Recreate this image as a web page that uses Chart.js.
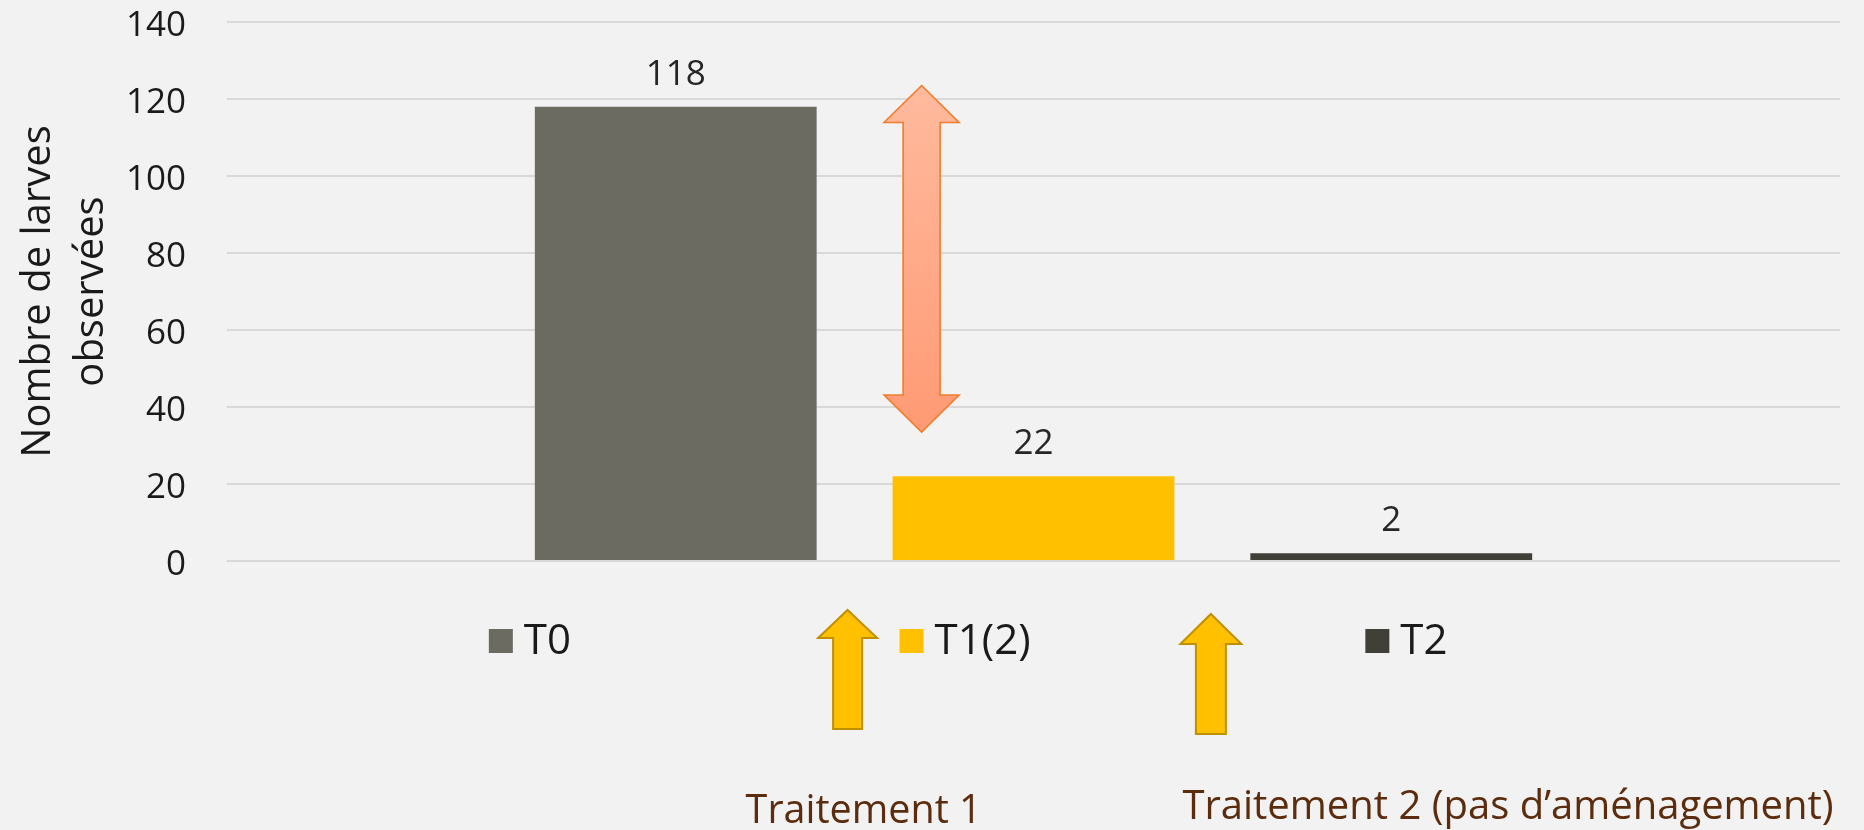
<!DOCTYPE html>
<html><head><meta charset="utf-8">
<script src="https://cdn.jsdelivr.net/npm/chart.js@4.4.1/dist/chart.umd.min.js"></script>
<style>html,body{margin:0;padding:0;background:#f2f2f2;overflow:hidden}#wrap{width:1864px;height:830px}</style>
</head><body><div id="wrap"><canvas id="c" width="1864" height="830"></canvas></div>
<script>
// ---- data ----
const categories = [''];
const seriesLabels = ['T0', 'T1(2)', 'T2'];
const t0Values = [118];
const t1Values = [22];
const t2Values = [2];
const yTicks = [0, 20, 40, 60, 80, 100, 120, 140];
const yTitle = ['Nombre de larves', 'observées'];
const noteLabels = ['Traitement 1', 'Traitement 2 (pas d\u2019aménagement)'];

// ---- styles ----
const FONT = "'Open Sans', sans-serif";
const barColors = ['#6c6b62', '#ffc000', '#403f38'];
const BG = '#f2f2f2';

const bgPlugin = {
  id: 'bg',
  beforeDraw(chart) {
    const c = chart.ctx; c.save(); c.fillStyle = BG; c.fillRect(0, 0, chart.width, chart.height); c.restore();
  }
};

const valueLabels = {
  id: 'valueLabels',
  afterDatasetsDraw(chart) {
    const c = chart.ctx; c.save();
    c.font = '35px ' + FONT; c.fillStyle = '#262626'; c.textAlign = 'center'; c.textBaseline = 'middle';
    chart.data.datasets.forEach((ds, i) => {
      chart.getDatasetMeta(i).data.forEach((el, j) => {
        c.fillText(String(ds.data[j]), el.x, el.y - 32);
      });
    });
    c.restore();
  }
};

function upArrow(c, cx, yTip, yBot, headHalf, shaftHalf, headLen) {
  c.beginPath();
  c.moveTo(cx, yTip);
  c.lineTo(cx + headHalf, yTip + headLen);
  c.lineTo(cx + shaftHalf, yTip + headLen);
  c.lineTo(cx + shaftHalf, yBot);
  c.lineTo(cx - shaftHalf, yBot);
  c.lineTo(cx - shaftHalf, yTip + headLen);
  c.lineTo(cx - headHalf, yTip + headLen);
  c.closePath();
}
function doubleArrow(c, cx, yTop, yBot, headHalf, shaftHalf, headLen) {
  c.beginPath();
  c.moveTo(cx, yTop);
  c.lineTo(cx + headHalf, yTop + headLen);
  c.lineTo(cx + shaftHalf, yTop + headLen);
  c.lineTo(cx + shaftHalf, yBot - headLen);
  c.lineTo(cx + headHalf, yBot - headLen);
  c.lineTo(cx, yBot);
  c.lineTo(cx - headHalf, yBot - headLen);
  c.lineTo(cx - shaftHalf, yBot - headLen);
  c.lineTo(cx - shaftHalf, yTop + headLen);
  c.lineTo(cx - headHalf, yTop + headLen);
  c.closePath();
}

const annotations = {
  id: 'annotations',
  afterDraw(chart) {
    const c = chart.ctx, ys = chart.scales.y, ca = chart.chartArea;
    const bars = chart.data.datasets.map((d, i) => chart.getDatasetMeta(i).data[0]);
    const L = b => b.x - b.width / 2, R = b => b.x + b.width / 2;
    c.save();
    // orange double arrow
    const ox = L(bars[1]) + 29;
    const oTop = ys.getPixelForValue(123.5), oBot = ys.getPixelForValue(33.5);
    const g = c.createLinearGradient(0, oTop, 0, oBot);
    g.addColorStop(0, '#ffba9e'); g.addColorStop(1, '#ff9a74');
    doubleArrow(c, ox, oTop, oBot, 37.5, 18.5, 37);
    c.fillStyle = g; c.fill();
    c.strokeStyle = '#f07d2c'; c.lineWidth = 1.6; c.lineJoin = 'miter'; c.stroke();
    // yellow arrows
    const gap1 = (R(bars[0]) + L(bars[1])) / 2, gap2 = (R(bars[1]) + L(bars[2])) / 2;
    c.fillStyle = '#ffc000'; c.strokeStyle = '#c09000'; c.lineWidth = 2;
    upArrow(c, gap1 - 7, ca.bottom + 49, ca.bottom + 168, 29.5, 14.5, 28); c.fill(); c.stroke();
    upArrow(c, gap2 - 1.5, ca.bottom + 53, ca.bottom + 173, 30.5, 15, 30); c.fill(); c.stroke();
    // notes
    c.fillStyle = '#5b2c0d'; c.textAlign = 'left'; c.textBaseline = 'alphabetic';
    c.font = '40px ' + FONT;
    c.fillText(noteLabels[0], gap1 - 109, ca.bottom + 262, 236);
    c.fillText(noteLabels[1], gap2 - 30, ca.bottom + 258, 675);
    // legend
    c.font = '42px ' + FONT; c.textBaseline = 'middle';
    const box = 24, tgap = 11, ly = ca.bottom + 80;
    const boxLefts = [L(bars[0]) - 46, L(bars[1]) + 7, L(bars[2]) + 115];
    chart.data.datasets.forEach((d, i) => {
      const x = boxLefts[i];
      c.fillStyle = d.backgroundColor;
      c.fillRect(x, ly - box / 2, box, box);
      c.fillStyle = '#1a1a1a';
      c.fillText(d.label, x + box + tgap, ly + 1);
    });
    c.restore();
  }
};

const datasets = [t0Values, t1Values, t2Values].map((vals, i) => ({
  label: seriesLabels[i],
  data: vals,
  backgroundColor: barColors[i],
  borderWidth: 0,
  categoryPercentage: 0.6654,
  barPercentage: 0.7877
}));

new Chart(document.getElementById('c'), {
  type: 'bar',
  data: { labels: categories, datasets },
  options: {
    responsive: false,
    animation: false,
    devicePixelRatio: 1,
    layout: { padding: { left: 0, top: 22, right: 24, bottom: 269 } },
    plugins: { legend: { display: false }, tooltip: { enabled: false } },
    scales: {
      x: { display: false, grid: { display: false } },
      y: {
        min: yTicks[0], max: yTicks[yTicks.length - 1],
        afterBuildTicks(s) { s.ticks = yTicks.map(v => ({ value: v })); },
        afterFit(s) { s.width = 227; s.paddingTop = 0; s.paddingBottom = 0; },
        ticks: { padding: 41, labelOffset: 4, color: '#1a1a1a', font: { family: FONT, size: 35 } },
        grid: { color: '#d9d9d9', lineWidth: 2, drawTicks: false },
        border: { display: false },
        title: {
          display: true, text: yTitle, color: '#1a1a1a',
          font: { family: FONT, size: 40, lineHeight: 1.32 },
          padding: { top: 12, bottom: 0 }
        }
      }
    }
  },
  plugins: [bgPlugin, valueLabels, annotations]
});
</script>
</body></html>
